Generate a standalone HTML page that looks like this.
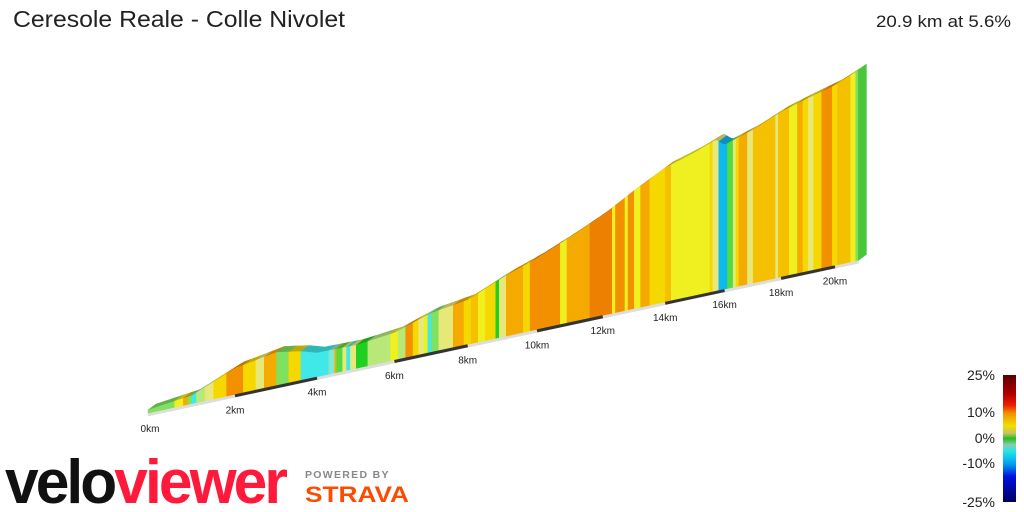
<!DOCTYPE html>
<html><head><meta charset="utf-8"><style>
html,body{margin:0;padding:0;background:#fff;width:1024px;height:512px;overflow:hidden}
svg{display:block}
text{font-family:"Liberation Sans",sans-serif}
</style></head><body>
<svg id="chart" width="1024" height="512" viewBox="0 0 1024 512">
<defs>
<linearGradient id="lg" x1="0" y1="0" x2="0" y2="1">
<stop offset="0" stop-color="#5a0000"/><stop offset="0.15" stop-color="#b00000"/><stop offset="0.24" stop-color="#ee2000"/>
<stop offset="0.3" stop-color="#f09000"/><stop offset="0.4" stop-color="#f0e000"/><stop offset="0.46" stop-color="#c8c060"/>
<stop offset="0.5" stop-color="#20c020"/><stop offset="0.55" stop-color="#90c8b0"/><stop offset="0.6" stop-color="#20e8e8"/>
<stop offset="0.7" stop-color="#00a0f0"/><stop offset="0.8" stop-color="#0010e0"/><stop offset="1" stop-color="#000060"/>
</linearGradient>
</defs>
<text x="13" y="27" font-size="23" fill="#222" textLength="332" lengthAdjust="spacingAndGlyphs">Ceresole Reale - Colle Nivolet</text>
<text x="1011" y="27" font-size="17" fill="#222" text-anchor="end" textLength="135" lengthAdjust="spacingAndGlyphs">20.9 km at 5.6%</text>
<g id="profile"></g>
<g id="axis"></g>
<g>
<rect x="1003" y="375" width="13" height="127" fill="url(#lg)"/>
<g font-size="14" fill="#222" text-anchor="end">
<text x="995" y="380">25%</text>
<text x="995" y="417">10%</text>
<text x="995" y="443">0%</text>
<text x="995" y="468">-10%</text>
<text x="995" y="507">-25%</text>
</g></g>
<g>
<text x="5" y="503" font-size="62" font-weight="bold" textLength="280" lengthAdjust="spacingAndGlyphs" letter-spacing="-3"><tspan fill="#111">velo</tspan><tspan fill="#ff1a3c">viewer</tspan></text>
</g>
<g>
<text x="305" y="478" font-size="10.5" font-weight="bold" fill="#888" letter-spacing="1.3">POWERED BY</text>
<text x="305" y="502" font-size="22" font-weight="bold" fill="#fc4c02" textLength="104" lengthAdjust="spacingAndGlyphs">STRAVA</text>
</g>
</svg>
<script>
const distKm=[0,1,2,3,3.6,4,5,6,7,8,9,10,11,12,13,14,15,15.7,16,17,18,19,20,20.9];
const elevM=[1598,1629,1739,1782,1755,1725,1721,1746,1819,1850,1942,2015,2101,2193,2303,2401,2457,2506,2463,2518,2591,2640,2683,2745];
const segStart=[0,0.6,0.8,0.9,1.0,1.1,1.3,1.5,1.8,2.2,2.5,2.7,3.0,3.3,3.6,4.3,4.45,4.5,4.65,4.75,4.85,5.0,5.3,5.9,6.1,6.3,6.5,6.65,6.8,6.9,7.0,7.2,7.6,7.9,8.1,8.3,8.5,8.8,8.9,9.1,9.6,9.8,10.7,10.9,11.6,12.3,12.4,12.7,12.8,13.0,13.2,13.5,14.0,14.2,15.5,15.6,15.8,16.1,16.3,16.4,16.5,16.8,17.0,17.8,17.9,18.3,18.6,18.8,19.0,19.2,19.5,19.9,20.1,20.6,20.8];
const segGrade=[2,5,8,2,-3,3,4,6,9,6,4,8,2,6,-3,-2,8,1,4,-3,4,0,3,5,3,9,6,4,5,-3,2,4,8,6,7,5,6,0,4,8,6,9,5,8,10,5,9,5,9,5,8,6,7,5,6,4,-6,1,4,6,8,4,7,4,7,5,8,6,4,6,9,6,7,5,2];
const totalKm=20.9;
const tickKm=[0,2,4,6,8,10,12,14,16,18,20];

const NS="http://www.w3.org/2000/svg";
const C=0.01527,A=44.84;
function xOf(d){return 148+A*d/(1+C*d);}
function baseY(d){return 413-0.215*(xOf(d)-148);}
function elevAt(d){for(let i=0;i<distKm.length-1;i++){if(d<=distKm[i+1]){const t=(d-distKm[i])/(distKm[i+1]-distKm[i]);return elevM[i]+t*(elevM[i+1]-elevM[i]);}}return elevM[elevM.length-1];}
function topY(d){return baseY(d)-(elevAt(d)-1580)*0.163;}
const stops=[[-6,[16,184,240]],[-3,[64,232,232]],[-2,[128,232,208]],[0,[32,208,32]],[1,[80,221,64]],[2,[128,224,96]],[3,[184,232,120]],[4,[232,232,120]],[5,[240,240,32]],[6,[245,216,0]],[7,[245,192,0]],[8,[245,170,0]],[9,[243,144,0]],[10,[238,128,0]]];
function col(g,f){f=f||1;let c=stops[0][1];for(let i=0;i<stops.length-1;i++){if(g>=stops[i][0]&&g<=stops[i+1][0]){const t=(g-stops[i][0])/(stops[i+1][0]-stops[i][0]);c=stops[i][1].map((v,k)=>v+t*(stops[i+1][1][k]-v));}}if(g>10)c=stops[stops.length-1][1];return "rgb("+c.map(v=>Math.round(v*f)).join(",")+")";}
const prof=document.getElementById("profile");
const DX=8,DY=-6;
function poly(pts,fill,parent){const p=document.createElementNS(NS,"polygon");p.setAttribute("points",pts.map(q=>q[0].toFixed(1)+","+q[1].toFixed(1)).join(" "));p.setAttribute("fill",fill);p.setAttribute("stroke",fill);p.setAttribute("stroke-width","0.6");parent.appendChild(p);return p;}
const slab=poly([[xOf(0),baseY(0)],[xOf(totalKm),baseY(totalKm)],[xOf(totalKm),baseY(totalKm)+3],[xOf(0),baseY(0)+3]],"#ddd",prof);


for(let i=0;i<segStart.length;i++){
  const d0=segStart[i],d1=i+1<segStart.length?segStart[i+1]:totalKm;
  const pts=[];const steps=Math.max(1,Math.ceil((d1-d0)/0.1));
  for(let s=0;s<=steps;s++){const d=d0+(d1-d0)*s/steps;pts.push([xOf(d),topY(d)]);}
  const top=pts.concat(pts.slice().reverse().map(q=>[q[0]+DX,q[1]+DY]));
  const t=poly(top,col(segGrade[i],0.78),prof);
  
  
  const front=pts.concat([[xOf(d1),baseY(d1)],[xOf(d0),baseY(d0)]]);
  const f=poly(front,col(segGrade[i]),prof);
  
  
}
const dE=totalKm;
const endF=poly([[xOf(dE),topY(dE)],[xOf(dE)+DX,topY(dE)+DY],[xOf(dE)+DX,baseY(dE)+DY],[xOf(dE),baseY(dE)]],col(1,0.9),prof);


const axis=document.getElementById("axis");
for(let k=0;k<tickKm.length;k++){
  const d=tickKm[k];
  if(k%2===1&&d+2<=totalKm){const l=document.createElementNS(NS,"line");
    l.setAttribute("x1",xOf(d));l.setAttribute("y1",baseY(d)+1.5);l.setAttribute("x2",xOf(d+2));l.setAttribute("y2",baseY(d+2)+1.5);
    l.setAttribute("stroke","#333");l.setAttribute("stroke-width","3");
    
    
    axis.appendChild(l);}
  const t=document.createElementNS(NS,"text");
  t.setAttribute("x",xOf(d)+(d===0?2:0));t.setAttribute("y",baseY(d)+19);t.setAttribute("font-size","10");t.setAttribute("fill","#222");t.setAttribute("text-anchor","middle");
  t.textContent=d+"km";
  
  
  axis.appendChild(t);
}
</script>
</body></html>
